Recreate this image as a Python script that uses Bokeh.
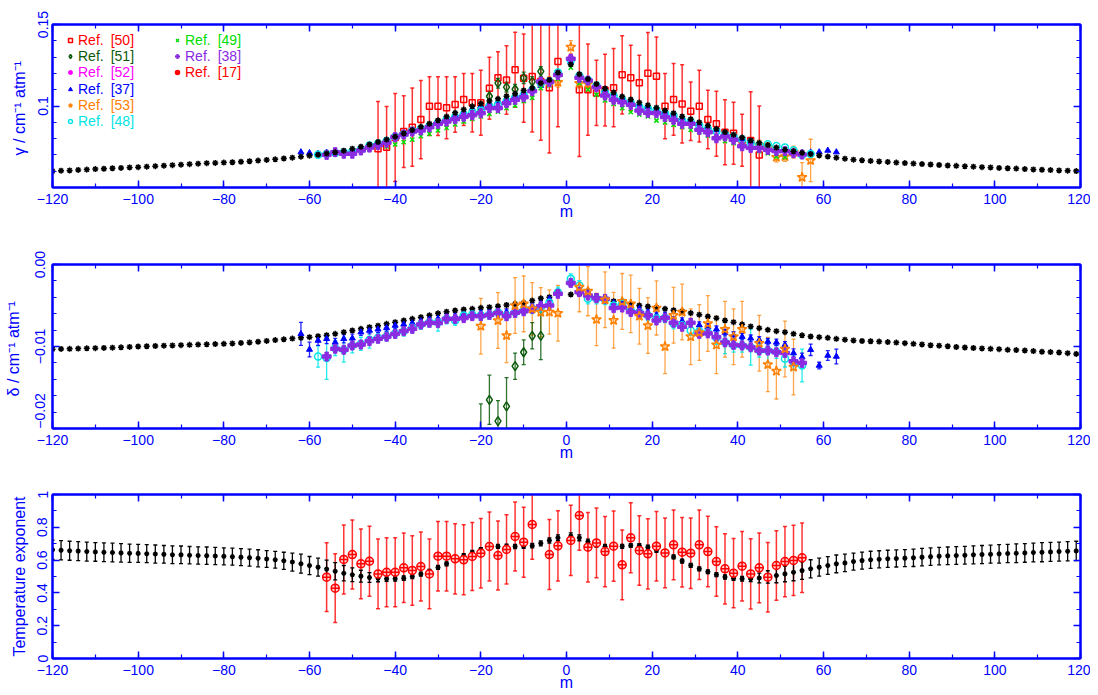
from bokeh.plotting import figure
from bokeh.models import (LinearAxis, FixedTicker, SingleIntervalTicker, Legend,
                          LegendItem, Range1d, CustomLabelingPolicy)
from bokeh.layouts import column
from bokeh.embed import file_html
from bokeh.resources import INLINE

# ------------------------------------------------------------------ data
m_P = list(range(-120, 0, 2))      # P branch, even m
m_R = list(range(1, 120, 2))       # R branch, odd m
m_calc = m_P + m_R

# calculated values (black)
gam_calc = [
    0.0600, 0.0603, 0.0605, 0.0608, 0.0610, 0.0613, 0.0615, 0.0618, 0.0620, 0.0623,
    0.0625, 0.0628, 0.0631, 0.0634, 0.0637, 0.0640, 0.0643, 0.0646, 0.0649, 0.0651,
    0.0653, 0.0655, 0.0658, 0.0661, 0.0665, 0.0669, 0.0673, 0.0678, 0.0683, 0.0689,
    0.0695, 0.0701, 0.0708, 0.0716, 0.0726, 0.0738, 0.0750, 0.0764, 0.0779, 0.0794,
    0.0812, 0.0832, 0.0852, 0.0872, 0.0891, 0.0912, 0.0935, 0.0958, 0.0978, 0.0998,
    0.1015, 0.1030, 0.1044, 0.1060, 0.1075, 0.1095, 0.1110, 0.1140, 0.1160, 0.1205,
    0.1255, 0.1195, 0.1165, 0.1135, 0.1108, 0.1083, 0.1058, 0.1040, 0.1021, 0.1005,
    0.0990, 0.0973, 0.0956, 0.0936, 0.0919, 0.0900, 0.0880, 0.0860, 0.0840, 0.0824,
    0.0806, 0.0789, 0.0774, 0.0760, 0.0745, 0.0732, 0.0722, 0.0713, 0.0705, 0.0697,
    0.0690, 0.0683, 0.0677, 0.0671, 0.0667, 0.0663, 0.0660, 0.0657, 0.0653, 0.0650,
    0.0647, 0.0644, 0.0641, 0.0638, 0.0635, 0.0633, 0.0630, 0.0628, 0.0625, 0.0623,
    0.0620, 0.0618, 0.0616, 0.0613, 0.0611, 0.0609, 0.0607, 0.0605, 0.0603, 0.0601]

del_calc = [
    -0.01033, -0.01030, -0.01028, -0.01025, -0.01022, -0.01020, -0.01017, -0.01014, -0.01010, -0.01005,
    -0.01000, -0.00997, -0.00994, -0.00990, -0.00987, -0.00984, -0.00980, -0.00977, -0.00974, -0.00970,
    -0.00967, -0.00962, -0.00956, -0.00950, -0.00942, -0.00932, -0.00922, -0.00912, -0.00903, -0.00894,
    -0.00886, -0.00874, -0.00862, -0.00846, -0.00825, -0.00805, -0.00785, -0.00764, -0.00746, -0.00724,
    -0.00703, -0.00683, -0.00663, -0.00642, -0.00620, -0.00596, -0.00575, -0.00561, -0.00549, -0.00540,
    -0.00528, -0.00520, -0.00508, -0.00494, -0.00480, -0.00467, -0.00440, -0.00412, -0.00398, -0.00337,
    -0.00366, -0.00358, -0.00360, -0.00390, -0.00419, -0.00447, -0.00472, -0.00488, -0.00500, -0.00512,
    -0.00526, -0.00540, -0.00558, -0.00570, -0.00592, -0.00612, -0.00634, -0.00654, -0.00683, -0.00703,
    -0.00730, -0.00755, -0.00776, -0.00797, -0.00813, -0.00825, -0.00846, -0.00864, -0.00878, -0.00886,
    -0.00894, -0.00906, -0.00917, -0.00926, -0.00933, -0.00936, -0.00940, -0.00946, -0.00952, -0.00960,
    -0.00967, -0.00975, -0.00985, -0.00990, -0.00997, -0.01006, -0.01012, -0.01018, -0.01023, -0.01028,
    -0.01033, -0.01040, -0.01044, -0.01049, -0.01056, -0.01064, -0.01068, -0.01073, -0.01081, -0.01090]

n_calc = [
    0.663, 0.660, 0.657, 0.655, 0.652, 0.650, 0.648, 0.646, 0.644, 0.642,
    0.641, 0.639, 0.637, 0.635, 0.633, 0.632, 0.630, 0.628, 0.627, 0.625,
    0.623, 0.621, 0.618, 0.615, 0.611, 0.607, 0.602, 0.596, 0.588, 0.578,
    0.567, 0.557, 0.545, 0.532, 0.520, 0.511, 0.502, 0.494, 0.490, 0.487,
    0.486, 0.490, 0.500, 0.515, 0.532, 0.555, 0.577, 0.603, 0.627, 0.647,
    0.664, 0.677, 0.683, 0.684, 0.683, 0.684, 0.688, 0.702, 0.720, 0.736,
    0.746, 0.736, 0.712, 0.694, 0.682, 0.679, 0.684, 0.689, 0.688, 0.679,
    0.660, 0.642, 0.619, 0.594, 0.568, 0.547, 0.529, 0.511, 0.497, 0.490,
    0.486, 0.487, 0.491, 0.497, 0.506, 0.516, 0.526, 0.536, 0.547, 0.557,
    0.567, 0.577, 0.583, 0.591, 0.597, 0.602, 0.605, 0.608, 0.610, 0.612,
    0.614, 0.618, 0.621, 0.624, 0.626, 0.628, 0.630, 0.632, 0.634, 0.636,
    0.638, 0.640, 0.642, 0.644, 0.646, 0.648, 0.650, 0.652, 0.654, 0.656]
n_calc_err = [
    0.059, 0.059, 0.058, 0.058, 0.058, 0.057, 0.057, 0.057, 0.056, 0.056,
    0.055, 0.055, 0.055, 0.054, 0.054, 0.054, 0.053, 0.053, 0.053, 0.053,
    0.052, 0.052, 0.052, 0.052, 0.052, 0.051, 0.051, 0.052, 0.055, 0.058,
    0.055, 0.055, 0.055, 0.052, 0.047, 0.042, 0.036, 0.030, 0.022, 0.016,
    0.014, 0.014, 0.013, 0.012, 0.012, 0.012, 0.012, 0.012, 0.012, 0.012,
    0.012, 0.012, 0.012, 0.013, 0.013, 0.013, 0.014, 0.015, 0.016, 0.018,
    0.020, 0.018, 0.016, 0.014, 0.013, 0.012, 0.012, 0.012, 0.012, 0.012,
    0.012, 0.012, 0.012, 0.012, 0.012, 0.012, 0.012, 0.012, 0.013, 0.014,
    0.014, 0.018, 0.030, 0.038, 0.044, 0.048, 0.052, 0.054, 0.055, 0.055,
    0.054, 0.054, 0.053, 0.052, 0.052, 0.052, 0.052, 0.052, 0.052, 0.052,
    0.053, 0.053, 0.053, 0.053, 0.054, 0.054, 0.054, 0.055, 0.055, 0.055,
    0.056, 0.056, 0.057, 0.057, 0.057, 0.058, 0.058, 0.058, 0.059, 0.059]

# ---- gamma, measured
m_g50 = [-44, -42, -40, -38, -36, -34, -32, -30, -28, -26, -24, -22, -20, -18, -16, -14, -12, -10, -8, -6, -4, -2,
         3, 5, 7, 9, 11, 13, 15, 17, 19, 21, 23, 25, 27, 29, 31, 33, 35, 37, 39, 41, 43, 45]
g50 = [0.0737, 0.0747, 0.0807, 0.0843, 0.0870, 0.0917, 0.0999, 0.0999, 0.0989, 0.1009, 0.1040, 0.1020,
       0.1020, 0.1109, 0.1173, 0.1160, 0.1222, 0.1171, 0.1181, 0.1150, 0.1112, 0.1273,
       0.1100, 0.1100, 0.1080, 0.1097, 0.1112, 0.1191, 0.1173, 0.1142, 0.1201, 0.1183, 0.0999,
       0.1040, 0.1013, 0.0968, 0.0999, 0.0917, 0.0891, 0.0839, 0.0833, 0.0790, 0.0788, 0.0700]
g50_err = [0.0290, 0.0250, 0.0270, 0.0220, 0.0240, 0.0240, 0.0180, 0.0180, 0.0190, 0.0170, 0.0160, 0.0180,
           0.0200, 0.0190, 0.0160, 0.0210, 0.0230, 0.0270, 0.0340, 0.0360, 0.0400, 0.0400,
           0.0410, 0.0280, 0.0200, 0.0220, 0.0240, 0.0240, 0.0200, 0.0170, 0.0250, 0.0240, 0.0200,
           0.0220, 0.0240, 0.0180, 0.0220, 0.0180, 0.0200, 0.0200, 0.0190, 0.0160, 0.0300, 0.0300]

m_g51 = [-20, -18, -16, -14, -12, -10, -8, -6]
g51 = [0.0985, 0.1060, 0.1140, 0.1116, 0.1103, 0.1173, 0.1150, 0.1212]
g51_err = [0.0030, 0.0030, 0.0030, 0.0030, 0.0030, 0.0035, 0.0030, 0.0030]

m_g52 = list(range(-54, 0, 2)) + list(range(1, 54, 2))
g52 = [0.0712, 0.0710, 0.0712, 0.0730, 0.0748, 0.0762, 0.0778, 0.0805, 0.0820, 0.0840,
       0.0852, 0.0872, 0.0893, 0.0908, 0.0924, 0.0938, 0.0950, 0.0962, 0.0990, 0.0995,
       0.1020, 0.1040, 0.1058, 0.1090, 0.1145, 0.1145, 0.1195,
       0.1300, 0.1178, 0.1158, 0.1118, 0.1070, 0.1045, 0.1028, 0.1010, 0.0978, 0.0964,
       0.0960, 0.0938, 0.0920, 0.0898, 0.0895, 0.0860, 0.0845, 0.0810, 0.0818, 0.0798,
       0.0762, 0.0750, 0.0748, 0.0738, 0.0728, 0.0726, 0.0715]

m_g37 = list(range(-62, 0, 2)) + list(range(1, 64, 2))
g37 = [0.0717, 0.0712, 0.0708, 0.0715, 0.0712, 0.0720, 0.0728, 0.0742, 0.0758, 0.0772,
       0.0788, 0.0808, 0.0826, 0.0845, 0.0864, 0.0882, 0.0903, 0.0925, 0.0946, 0.0965,
       0.0985, 0.1000, 0.1015, 0.1030, 0.1045, 0.1062, 0.1080, 0.1098, 0.1125, 0.1150, 0.1200,
       0.1270, 0.1190, 0.1158, 0.1128, 0.1100, 0.1076, 0.1050, 0.1030, 0.1010, 0.0995,
       0.0980, 0.0962, 0.0945, 0.0926, 0.0909, 0.0890, 0.0870, 0.0852, 0.0832, 0.0816,
       0.0798, 0.0780, 0.0766, 0.0752, 0.0740, 0.0728, 0.0720, 0.0712, 0.0716, 0.0717,
       0.0727, 0.0717]

m_g53 = [-4, -2, 1, 3, 5, 45, 47, 49, 51, 53, 55, 57]
g53 = [0.1150, 0.1146, 0.1361, 0.1140, 0.1135, 0.0760, 0.0745, 0.0686, 0.0690, 0.0717, 0.0563, 0.0666]
g53_err = [0.0030, 0.0030, 0.0040, 0.0030, 0.0030, 0.0030, 0.0030, 0.0030, 0.0030, 0.0037, 0.0090, 0.0130]

m_g48 = list(range(-58, 0, 2)) + list(range(1, 58, 2))
g48 = [0.0701, 0.0705, 0.0712, 0.0716, 0.0722, 0.0735, 0.0757, 0.0770, 0.0785, 0.0812,
       0.0828, 0.0848, 0.0860, 0.0878, 0.0898, 0.0915, 0.0932, 0.0948, 0.0960, 0.0972,
       0.1000, 0.1008, 0.1030, 0.1052, 0.1068, 0.1098, 0.1140, 0.1150, 0.1205,
       0.1280, 0.1185, 0.1160, 0.1125, 0.1085, 0.1062, 0.1040, 0.1020, 0.0995, 0.0985,
       0.0975, 0.0955, 0.0940, 0.0912, 0.0905, 0.0880, 0.0860, 0.0845, 0.0825, 0.0812,
       0.0795, 0.0776, 0.0760, 0.0765, 0.0754, 0.0745, 0.0728, 0.0700, 0.0705]

m_g49 = list(range(-46, 0, 2)) + list(range(1, 52, 2))
g49 = [0.0736, 0.0752, 0.0752, 0.0764, 0.0778, 0.0794, 0.0815, 0.0829, 0.0850, 0.0866,
       0.0887, 0.0905, 0.0921, 0.0936, 0.0952, 0.0966, 0.0987, 0.1003, 0.1030, 0.1050,
       0.1110, 0.1126, 0.1167,
       0.1235, 0.1140, 0.1100, 0.1069, 0.1034, 0.1013, 0.0987, 0.0962, 0.0948, 0.0936,
       0.0911, 0.0900, 0.0885, 0.0870, 0.0854, 0.0839, 0.0819, 0.0802, 0.0784, 0.0772,
       0.0758, 0.0743, 0.0723, 0.0710, 0.0690, 0.0686]

m_g38 = list(range(-56, 0, 2)) + list(range(1, 56, 2))
g38 = [0.0700, 0.0717, 0.0707, 0.0707, 0.0727, 0.0745, 0.0760, 0.0775, 0.0809, 0.0825,
       0.0843, 0.0850, 0.0870, 0.0891, 0.0905, 0.0919, 0.0934, 0.0944, 0.0956, 0.0987,
       0.0987, 0.1017, 0.1038, 0.1054, 0.1091, 0.1150, 0.1147, 0.1190,
       0.1290, 0.1173, 0.1156, 0.1116, 0.1064, 0.1038, 0.1023, 0.1007, 0.0972, 0.0958,
       0.0956, 0.0932, 0.0915, 0.0891, 0.0891, 0.0854, 0.0839, 0.0802, 0.0813, 0.0793,
       0.0753, 0.0743, 0.0743, 0.0731, 0.0723, 0.0723, 0.0710, 0.0702]

# ---- delta, measured
m_d37 = list(range(-62, 0, 2)) + list(range(1, 64, 2))
d37 = [-0.00846, -0.01037, -0.00927, -0.00906, -0.00950, -0.00906, -0.00900, -0.00825, -0.00805, -0.00790,
       -0.00772, -0.00744, -0.00730, -0.00715, -0.00690, -0.00670, -0.00660, -0.00640, -0.00630, -0.00610,
       -0.00600, -0.00590, -0.00590, -0.00570, -0.00580, -0.00560, -0.00540, -0.00510, -0.00480, -0.00420, -0.00350,
       -0.00230, -0.00320, -0.00340, -0.00400, -0.00420, -0.00470, -0.00470, -0.00530, -0.00540, -0.00580,
       -0.00620, -0.00620, -0.00680, -0.00690, -0.00700, -0.00740, -0.00760, -0.00790, -0.00830, -0.00860,
       -0.00880, -0.00900, -0.00920, -0.00940, -0.00950, -0.00980, -0.01080, -0.01130, -0.01040, -0.01232,
       -0.01110, -0.01122]
d37_err = [0.0014, 0.0009, 0.0006, 0.0006, 0.0005, 0.0005, 0.0005, 0.0004, 0.0004, 0.0004,
           0.0004, 0.0004, 0.0004, 0.0004, 0.0004, 0.0004, 0.0004, 0.0004, 0.0004, 0.0004,
           0.0004, 0.0004, 0.0004, 0.0004, 0.0004, 0.0004, 0.0004, 0.0004, 0.0004, 0.0004, 0.0004,
           0.0004, 0.0004, 0.0004, 0.0004, 0.0004, 0.0004, 0.0004, 0.0004, 0.0004, 0.0004,
           0.0004, 0.0004, 0.0004, 0.0004, 0.0004, 0.0004, 0.0004, 0.0004, 0.0004, 0.0004,
           0.0004, 0.0004, 0.0004, 0.0004, 0.0004, 0.0004, 0.0005, 0.0005, 0.0007, 0.0004,
           0.0006, 0.0009]

m_d48 = list(range(-58, 0, 2)) + list(range(1, 56, 2))
d48 = [-0.01122, -0.01140, -0.01020, -0.01040, -0.00988, -0.00967, -0.00919, -0.00894, -0.00874, -0.00837,
       -0.00813, -0.00772, -0.00732, -0.00703, -0.00703, -0.00663, -0.00683, -0.00622, -0.00610, -0.00620,
       -0.00610, -0.00581, -0.00620, -0.00581, -0.00561, -0.00540, -0.00520, -0.00467, -0.00337,
       -0.00175, -0.00256, -0.00419, -0.00419, -0.00430, -0.00500, -0.00480, -0.00560, -0.00581, -0.00620,
       -0.00660, -0.00650, -0.00724, -0.00740, -0.00805, -0.00815, -0.00825, -0.00894, -0.00947, -0.00988,
       -0.00988, -0.01008, -0.01050, -0.01050, -0.01065, -0.01150, -0.01191, -0.01232]
d48_err = [0.0013, 0.0026, 0.0009, 0.0015, 0.0009, 0.0008, 0.0010, 0.0006, 0.0006, 0.0006,
           0.0006, 0.0006, 0.0006, 0.0006, 0.0011, 0.0006, 0.0006, 0.0006, 0.0006, 0.0006,
           0.0006, 0.0006, 0.0006, 0.0006, 0.0006, 0.0006, 0.0006, 0.0006, 0.0006,
           0.0006, 0.0006, 0.0006, 0.0006, 0.0006, 0.0006, 0.0006, 0.0006, 0.0006, 0.0006,
           0.0006, 0.0006, 0.0006, 0.0006, 0.0006, 0.0006, 0.0006, 0.0008, 0.0014, 0.0008,
           0.0008, 0.0022, 0.0008, 0.0014, 0.0008, 0.0010, 0.0009, 0.0020]

m_d38 = list(range(-56, 0, 2)) + list(range(1, 56, 2))
d38 = [-0.01122, -0.01028, -0.01040, -0.00988, -0.00976, -0.00935, -0.00906, -0.00880, -0.00846, -0.00813,
       -0.00785, -0.00732, -0.00711, -0.00715, -0.00663, -0.00663, -0.00654, -0.00630, -0.00630, -0.00614,
       -0.00590, -0.00630, -0.00590, -0.00570, -0.00540, -0.00508, -0.00500, -0.00358,
       -0.00224, -0.00337, -0.00378, -0.00411, -0.00419, -0.00532, -0.00525, -0.00580, -0.00590, -0.00620,
       -0.00683, -0.00650, -0.00710, -0.00760, -0.00710, -0.00846, -0.00840, -0.00886, -0.00950, -0.00980,
       -0.00988, -0.01010, -0.01050, -0.01050, -0.01070, -0.01080, -0.01180, -0.01200]

m_d53 = [-20, -16, -14, -12, -10, -8, -6, -4, -2,
         3, 5, 7, 9, 11, 13, 15, 17, 19, 21, 23, 25, 27, 29, 31, 33, 35, 37, 39, 41,
         45, 47, 49, 51, 53]
d53 = [-0.00752, -0.00683, -0.00866, -0.00500, -0.00480, -0.00540, -0.00581, -0.00580, -0.00594,
       -0.00276, -0.00325, -0.00670, -0.00430, -0.00680, -0.00450, -0.00480, -0.00630, -0.00744, -0.00530,
       -0.01000, -0.00620, -0.00580, -0.00880, -0.00830, -0.00720, -0.00980, -0.00790, -0.00880, -0.00790,
       -0.00960, -0.01220, -0.01300, -0.01030, -0.01250]
d53_err = [0.0034, 0.0034, 0.0033, 0.0034, 0.0034, 0.0032, 0.0030, 0.0027, 0.0034,
           0.0030, 0.0030, 0.0032, 0.0034, 0.0034, 0.0034, 0.0035, 0.0034, 0.0034, 0.0033,
           0.0033, 0.0034, 0.0034, 0.0034, 0.0034, 0.0034, 0.0035, 0.0034, 0.0034, 0.0034,
           0.0034, 0.0033, 0.0034, 0.0034, 0.0034]

m_d51 = [-20, -18, -16, -14, -12, -10, -8, -6]
d51 = [-0.0215, -0.0165, -0.0191, -0.0173, -0.0124, -0.0107, -0.0087, -0.0087]
d51_err = [0.0045, 0.0030, 0.0025, 0.0035, 0.0016, 0.0015, 0.0016, 0.0029]

# ---- temperature exponent, measured
m_n17 = list(range(-56, -6, 2)) + [-4, -2] + list(range(1, 56, 2))
n17 = [0.496, 0.429, 0.604, 0.634, 0.577, 0.593, 0.516, 0.526, 0.526, 0.553,
       0.537, 0.561, 0.516, 0.624, 0.624, 0.608, 0.602, 0.622, 0.642, 0.683,
       0.628, 0.665, 0.744, 0.709, 0.817, 0.634, 0.687,
       0.720, 0.872, 0.679, 0.705, 0.652, 0.685, 0.571, 0.736, 0.659, 0.638,
       0.685, 0.644, 0.693, 0.648, 0.642, 0.693, 0.652, 0.591, 0.547, 0.520,
       0.563, 0.516, 0.553, 0.496, 0.567, 0.591, 0.598, 0.614]
n17_err = [0.210, 0.210, 0.210, 0.210, 0.212, 0.213, 0.212, 0.211, 0.210, 0.212,
           0.212, 0.211, 0.212, 0.212, 0.212, 0.214, 0.213, 0.208, 0.212, 0.211,
           0.210, 0.211, 0.211, 0.214, 0.212, 0.213, 0.214,
           0.214, 0.212, 0.212, 0.213, 0.214, 0.214, 0.213, 0.213, 0.212, 0.214,
           0.212, 0.212, 0.213, 0.212, 0.215, 0.212, 0.215, 0.212, 0.214, 0.211,
           0.212, 0.214, 0.213, 0.212, 0.212, 0.214, 0.214, 0.212]

x_tick_labels = {-120: "\u2212120", -100: "\u2212100", -80: "\u221280", -60: "\u221260",
                 -40: "\u221240", -20: "\u221220", 0: "0", 20: "20", 40: "40", 60: "60",
                 80: "80", 100: "100", 120: "120"}
g_ticks = [0.1, 0.15]
g_tick_labels = {0.1: "0.1", 0.15: "0.15"}
d_ticks = [-0.02, -0.01, 0.0]
# the lowest label sits raised above the corner, as in the original
d_tick_labels = {-0.02: "\u2002\u2002\u2002\u2002\u2002\u22120.02", -0.01: "\u22120.01", 0.0: "0.00"}
n_ticks = [0.0, 0.2, 0.4, 0.6, 0.8, 1.0]
n_tick_labels = {0.0: "0", 0.2: "0.2", 0.4: "0.4", 0.6: "0.6", 0.8: "0.8", 1.0: "1"}

# ------------------------------------------------------------------ style
BLUE = "#0000ff"
FONT = "Liberation Sans"
FS = "14px"
FS_LAB = "16px"
C50 = "#ff0000"
C51 = "#0b5a0b"
C52 = "#ff00ff"
C37 = "#0000ff"
C53 = "#ff8000"
C48 = "#00e5e5"
C49 = "#00dd00"
C38 = "#8a2be2"
C17 = "#ff0000"


def style_axis(ax, ticker, labels, overrides=None):
    ax.ticker = ticker
    ax.axis_line_color = BLUE
    ax.axis_line_width = 2
    ax.major_tick_line_color = BLUE
    ax.minor_tick_line_color = BLUE
    ax.major_tick_line_width = 1.5
    ax.minor_tick_line_width = 1.2
    ax.major_tick_in = 7
    ax.major_tick_out = 0
    ax.minor_tick_in = 4
    ax.minor_tick_out = 0
    ax.major_label_text_color = BLUE
    ax.major_label_text_font = FONT
    ax.axis_label_text_color = BLUE
    ax.axis_label_text_font = FONT
    ax.axis_label_text_font_size = FS_LAB
    ax.axis_label_text_font_style = "normal"
    if labels:
        ax.major_label_text_font_size = FS
        if overrides:
            ax.major_label_overrides = overrides
    else:
        # mirrored axis: ticks only, no labels drawn at all
        ax.major_label_text_font_size = "1px"
        ax.major_label_standoff = 0
        ax.major_label_policy = CustomLabelingPolicy(code="return []")


def make_panel(yr, frame_h, top, bottom, yt_major, yt_minor, y_over, ylabel):
    p = figure(frame_width=1028, frame_height=frame_h,
               x_range=Range1d(-120, 120), y_range=Range1d(*yr),
               x_axis_type=None, y_axis_type=None,
               output_backend="svg", toolbar_location=None,
               min_border_left=52, min_border_right=10,
               min_border_top=top, min_border_bottom=bottom)
    p.outline_line_color = BLUE
    p.outline_line_width = 2
    xt = SingleIntervalTicker(interval=20, num_minor_ticks=2)
    yt = FixedTicker(ticks=yt_major, minor_ticks=yt_minor)
    bx = LinearAxis(axis_label="m")
    style_axis(bx, xt, True, x_tick_labels)
    bx.major_label_standoff = 6
    bx.axis_label_standoff = -4
    tx = LinearAxis()
    style_axis(tx, xt, False)
    ly = LinearAxis(axis_label=ylabel)
    style_axis(ly, yt, True, y_over)
    ly.major_label_orientation = "vertical"
    ly.major_label_standoff = 5
    ly.axis_label_standoff = 7
    ry = LinearAxis()
    style_axis(ry, yt, False)
    p.add_layout(bx, "below")
    p.add_layout(tx, "above")
    p.add_layout(ly, "left")
    p.add_layout(ry, "right")
    return p


def errbars(p, xs, ys, es, color, lw=1.3, alpha=0.85, cap=4):
    lo = [y - e for y, e in zip(ys, es)]
    hi = [y + e for y, e in zip(ys, es)]
    p.segment(x0=xs, y0=lo, x1=xs, y1=hi, line_color=color, line_width=lw, line_alpha=alpha)
    p.scatter(x=list(xs) + list(xs), y=lo + hi, marker="dash", size=cap,
              line_color=color, line_width=lw, line_alpha=alpha)


# ------------------------------------------------------------------ panel 1 (gamma)
g_minor = [0.05, 0.06, 0.07, 0.08, 0.09, 0.10, 0.11, 0.12, 0.13, 0.14, 0.15]
p1 = make_panel((0.05, 0.15), 163, 24, 45, g_ticks, g_minor, g_tick_labels,
                "\u03b3 / cm\u207b\u00b9  atm\u207b\u00b9")
errbars(p1, m_g50, g50, g50_err, C50, lw=1.5, alpha=0.8)
errbars(p1, m_g51, g51, g51_err, C51)
errbars(p1, m_g53, g53, g53_err, C53, alpha=0.7)
r50 = p1.scatter(m_g50, g50, marker="square", size=6, fill_color=None, line_color=C50, line_width=1.5)
r51 = p1.scatter(m_g51, g51, marker="diamond", size=9, fill_color=None, line_color=C51, line_width=1.5)
r52 = p1.scatter(m_g52, g52, marker="circle", size=5, fill_color=C52, line_color=C52)
r37 = p1.scatter(m_g37, g37, marker="triangle", size=6, fill_color=C37, line_color=C37)
r53 = p1.scatter(m_g53, g53, marker="star", size=10, fill_color=None, line_color=C53, line_width=1.5)
r48 = p1.scatter(m_g48, g48, marker="circle", size=7, fill_color=None, line_color=C48, line_width=1.5)
r49 = p1.scatter(m_g49, g49, marker="x", size=6, line_color=C49, line_width=1.5)
r38 = p1.scatter(m_g38, g38, marker="plus", size=9, fill_color=C38, line_color=C38)
p1.scatter(m_calc, gam_calc, marker="asterisk", size=6, line_color="black", line_width=1.5)
# Ref. [17] has no gamma data: its values (temperature exponents) lie far outside this
# panel's range, so this renderer only supplies the legend glyph
r17_leg = p1.scatter(m_n17, n17, marker="circle_cross", size=8, fill_color=None,
                     line_color=C17, line_width=1.5)

legend_entries = [
    ("Ref.\u2002[50]", r50, C50, 13, 139), ("Ref.\u2002[51]", r51, C51, 13, 123),
    ("Ref.\u2002[52]", r52, C52, 13, 107), ("Ref.\u2002[37]", r37, C37, 13, 90),
    ("Ref.\u2002[53]", r53, C53, 13, 74), ("Ref.\u2002[48]", r48, C48, 13, 58),
    ("Ref.\u2002[49]", r49, C49, 120, 139), ("Ref.\u2002[38]", r38, C38, 120, 123),
    ("Ref.\u2002[17]", r17_leg, C17, 120, 107),
]
for lab, r, col, lx, lyp in legend_entries:
    lg = Legend(items=[LegendItem(label=lab, renderers=[r])], location=(lx, lyp),
                background_fill_alpha=0, border_line_color=None,
                label_text_color=col, label_text_font=FONT, label_text_font_size=FS,
                glyph_width=10, glyph_height=16, label_height=16, label_standoff=3,
                padding=0, spacing=0, margin=0)
    p1.add_layout(lg)

# ------------------------------------------------------------------ panel 2 (delta)
d_minor = [-0.02, -0.018, -0.016, -0.014, -0.012, -0.01, -0.008, -0.006, -0.004, -0.002, 0.0]
p2 = make_panel((-0.02, 0.0), 164, 32, 40, d_ticks, d_minor, d_tick_labels,
                "\u03b4 / cm\u207b\u00b9  atm\u207b\u00b9")
errbars(p2, m_d53, d53, d53_err, C53, alpha=0.7)
errbars(p2, m_d51, d51, d51_err, C51)
errbars(p2, m_d48, d48, d48_err, C48)
errbars(p2, m_d37, d37, d37_err, C37)
p2.scatter(m_d51, d51, marker="diamond", size=9, fill_color=None, line_color=C51, line_width=1.5)
p2.scatter(m_calc, del_calc, marker="asterisk", size=6, line_color="black", line_width=1.5)
p2.scatter(m_d37, d37, marker="triangle", size=6, fill_color=C37, line_color=C37)
p2.scatter(m_d48, d48, marker="circle", size=7, fill_color=None, line_color=C48, line_width=1.5)
p2.scatter(m_d38, d38, marker="plus", size=9, fill_color=C38, line_color=C38)
p2.scatter(m_d53, d53, marker="star", size=10, fill_color=None, line_color=C53, line_width=1.5)

# ------------------------------------------------------------------ panel 3 (n)
n_minor = [0.0, 0.1, 0.2, 0.3, 0.4, 0.5, 0.6, 0.7, 0.8, 0.9, 1.0]
p3 = make_panel((0.0, 1.0), 164, 26, 35, n_ticks, n_minor, n_tick_labels,
                "Temperature exponent")
errbars(p3, m_n17, n17, n17_err, C17, lw=1.5, alpha=0.8)
errbars(p3, m_calc, n_calc, n_calc_err, "black", lw=1.3, alpha=1.0)
p3.scatter(m_calc, n_calc, marker="asterisk", size=5, line_color="black", line_width=1.5)
p3.scatter(m_n17, n17, marker="circle_cross", size=8, fill_color="#ffd0d0",
           line_color=C17, line_width=1.5)

layout = column(p1, p2, p3, spacing=0)
open("out.html", "w").write(file_html(layout, INLINE))
